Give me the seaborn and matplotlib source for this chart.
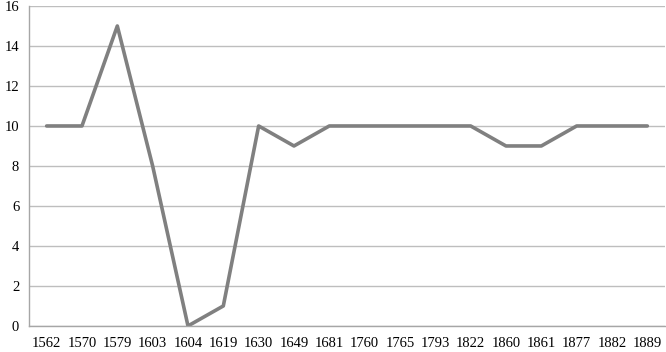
import numpy as np
import pandas as pd
import matplotlib
matplotlib.use("Agg")
import matplotlib.pyplot as plt
import seaborn as sns

# ── Data ────────────────────────────────────────────────────────────────
years = ["1562", "1570", "1579", "1603", "1604", "1619", "1630", "1649", "1681",
         "1760", "1765", "1793", "1822", "1860", "1861", "1877", "1882", "1889"]
values = [10, 10, 15, 8, 0, 1, 10, 9, 10, 10, 10, 10, 10, 9, 9, 10, 10, 10]

sns.set_style("white")
plt.rcParams["font.family"] = ["Liberation Serif", "DejaVu Serif"]

LINE = "#808080"
GRID = "#BEBEBE"
AXIS = "#A6A6A6"

df = pd.DataFrame({"pos": np.arange(len(years)), "value": values})

fig = plt.figure(figsize=(6.66, 3.52), dpi=100)
ax = fig.add_axes([0.0435, 0.074, 0.955, 0.909])

sns.lineplot(data=df, x="pos", y="value", color=LINE, linewidth=2.6, ax=ax)

ax.set_xlim(-0.5, len(years) - 0.5)
ax.set_ylim(0, 16)
ax.set_yticks(range(0, 17, 2))
ax.yaxis.grid(True, color=GRID, linewidth=1)
ax.set_axisbelow(True)

ax.set_xticks(df["pos"])
ax.set_xticklabels(years)
ax.set_xticks(np.arange(-0.5, len(years), 1), minor=True)
ax.tick_params(axis="x", which="major", length=0, pad=8, labelsize=10.5, colors="black")
ax.tick_params(axis="x", which="minor", length=4, color=AXIS, width=1, direction="out")
ax.tick_params(axis="y", length=4, color=AXIS, width=1, pad=3, labelsize=10.5, colors="black")

for side in ["top", "right"]:
    ax.spines[side].set_visible(False)
for side in ["left", "bottom"]:
    ax.spines[side].set_color(AXIS)
    ax.spines[side].set_linewidth(1)

ax.set_xlabel("")
ax.set_ylabel("")

fig.savefig("out.png", dpi=100)
